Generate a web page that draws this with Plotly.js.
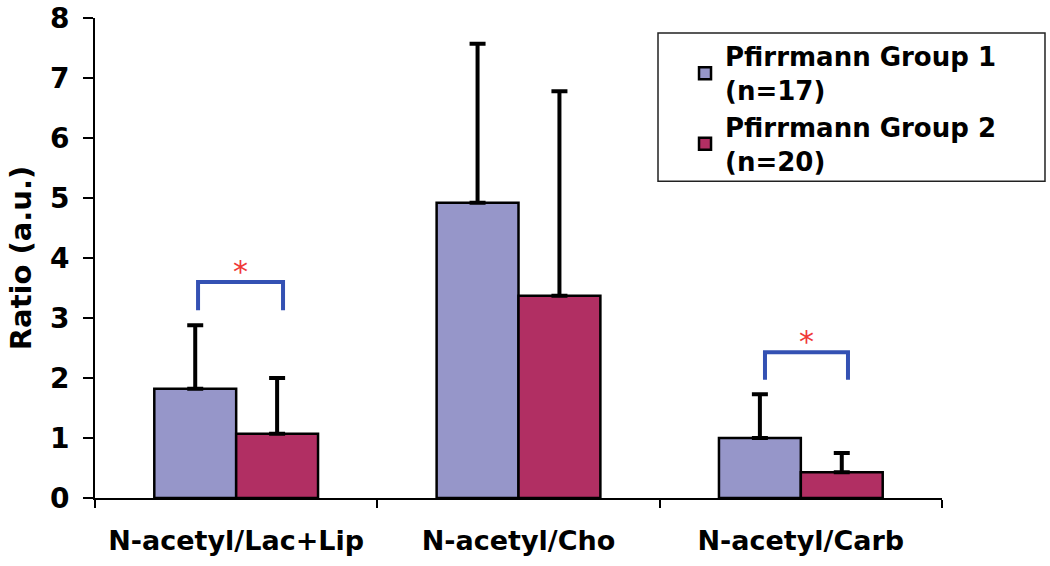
<!DOCTYPE html>
<html>
<head>
<meta charset="utf-8">
<script src="https://cdn.plot.ly/plotly-3.0.1.min.js"></script>
<style>html,body{margin:0;padding:0;background:#fff;}#chart{width:1050px;height:566px;}</style>
</head>
<body>
<div id="chart"></div>
<script>
const categories = ["N-acetyl/Lac+Lip", "N-acetyl/Cho", "N-acetyl/Carb"];
const seriesNames = ["Pfirrmann Group 1<br>(n=17)", "Pfirrmann Group 2<br>(n=20)"];
const group1Values = [1.82, 4.92, 1.00];
const group1Errors = [1.06, 2.65, 0.73];
const group2Values = [1.07, 3.37, 0.43];
const group2Errors = [0.93, 3.41, 0.32];
const yTicks = [0, 1, 2, 3, 4, 5, 6, 7, 8];
// significance brackets: [x left, x right, y top, y bottom] in data units
const bracketLeftX = [-0.135, 1.873];
const bracketRightX = [0.166, 2.167];
const bracketTopY = [3.6, 2.43];
const bracketBottomY = [3.13, 1.97];
const starLabels = ["*", "*"];

const FONT = "DejaVu Sans, Arial, sans-serif";
const colors = ["#9696c9", "#b12f63"];

function barTrace(name, vals, errs, color) {
  return {
    type: "bar", name: name, x: categories, y: vals,
    marker: {color: color, line: {color: "#000", width: 2.5}},
    error_y: {type: "data", array: errs, arrayminus: errs.map(() => 0), symmetric: false,
      color: "#000", thickness: 4, width: 8}
  };
}

const shapes = bracketLeftX.map((xl, i) => ({
  type: "path", xref: "x", yref: "y",
  path: `M ${xl},${bracketBottomY[i]} L ${xl},${bracketTopY[i]} L ${bracketRightX[i]},${bracketTopY[i]} L ${bracketRightX[i]},${bracketBottomY[i]}`,
  line: {color: "#3451b3", width: 4}
}));
// legend frame
shapes.push({type: "rect", xref: "paper", yref: "paper", x0: 0.6647, x1: 1.1216, y0: 0.660, y1: 0.969,
  line: {color: "#222", width: 1.5}, fillcolor: "rgba(0,0,0,0)", layer: "above"});

const annotations = bracketLeftX.map((xl, i) => ({
  x: (xl + bracketRightX[i]) / 2, y: bracketTopY[i], xref: "x", yref: "y",
  text: starLabels[i], showarrow: false, yanchor: "bottom", yshift: -9,
  font: {family: FONT, size: 30, color: "#f03838"}
}));

const layout = {
  width: 1050, height: 566,
  margin: {l: 95, r: 108, t: 18, b: 68},
  paper_bgcolor: "#fff", plot_bgcolor: "#fff",
  barmode: "group", bargap: 0.42, bargroupgap: 0,
  showlegend: true,
  legend: {x: 0.6966, y: 0.969, xanchor: "left", yanchor: "top",
    borderwidth: 0, bgcolor: "rgba(0,0,0,0)",
    font: {family: FONT, size: 26, color: "#000", weight: "bold"},
    itemwidth: 30, tracegroupgap: 0},
  xaxis: {type: "category", range: [-0.5, 2.5], showline: true, linecolor: "#000", linewidth: 2,
    ticks: "outside", tickson: "boundaries", ticklen: 8, tickwidth: 2, tickcolor: "#000",
    ticklabelstandoff: 18,
    tickfont: {family: FONT, size: 27, color: "#000", weight: "bold"}, showgrid: false, zeroline: false},
  yaxis: {range: [0, 8], tickvals: yTicks, showline: true, linecolor: "#000", linewidth: 2,
    ticks: "outside", ticklen: 10, tickwidth: 2, tickcolor: "#000", ticklabelstandoff: 8,
    tickfont: {family: FONT, size: 28, color: "#000", weight: "bold"}, showgrid: false, zeroline: false,
    title: {text: "Ratio (a.u.)", standoff: 10, font: {family: FONT, size: 29, color: "#000", weight: "bold"}}},
  shapes: shapes,
  annotations: annotations
};

Plotly.newPlot("chart", [
  barTrace(seriesNames[0], group1Values, group1Errors, colors[0]),
  barTrace(seriesNames[1], group2Values, group2Errors, colors[1])
], layout, {displayModeBar: false, staticPlot: true});
</script>
</body>
</html>
